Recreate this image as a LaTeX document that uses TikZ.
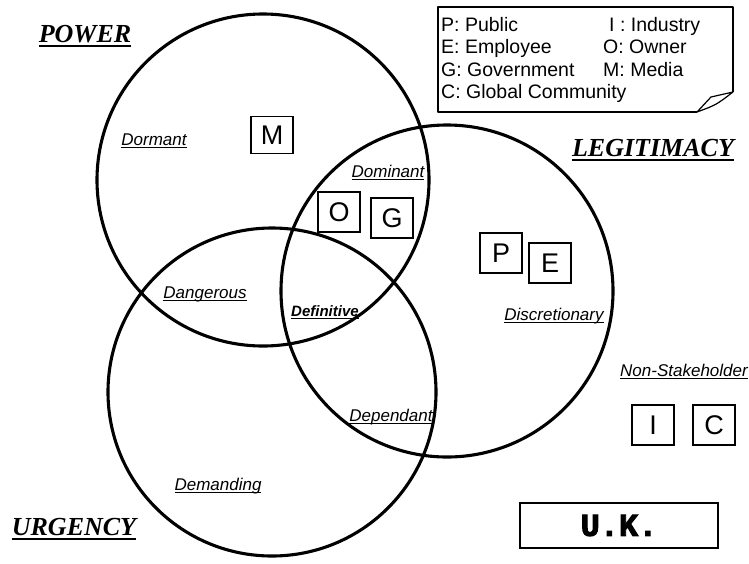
\documentclass[tikz,border=0pt]{standalone}
\usepackage{fontspec}
\setmainfont{Liberation Sans}
\newfontfamily\headfont{Liberation Serif}
\newfontfamily\ukfont[BoldFeatures={FakeBold=3}]{Liberation Mono}

% underline drawn as a rule of given depth range below the baseline
\newcommand\ulrule[3]{\setbox0\hbox{#3}\rlap{\vrule width\wd0 height -#1 depth #2}\box0}

\begin{document}
\begin{tikzpicture}[x=1pt,y=-1pt,
  ring/.style={line width=3.1pt},
  region/.style={anchor=base,inner sep=0pt,font=\fontsize{17}{20}\selectfont\itshape},
  attr/.style={anchor=base,inner sep=0pt,font=\fontsize{26}{30}\selectfont\headfont\bfseries\itshape},
  actor/.style={draw,line width=1.2pt,minimum width=42pt,minimum height=40pt,inner sep=0pt,font=\fontsize{27}{30}\selectfont},
  legend/.style={anchor=base west,inner sep=0pt,font=\fontsize{19.5}{22}\selectfont}
]
\useasboundingbox (0,0) rectangle (749,563);

% the three attribute circles
\draw[ring] (263,180) circle[radius=166pt];
\draw[ring] (447,291) circle[radius=166pt];
\draw[ring] (272,392) circle[radius=164pt];

% attribute headings
\node[attr] (power) at (85,42) {\ulrule{3pt}{5pt}{POWER}};
\node[attr] (legit) at (653,156) {\ulrule{3pt}{5pt}{LEGITIMACY}};
\node[attr] (urgency) at (74,535) {\ulrule{3pt}{5pt}{URGENCY}};

% stakeholder classes
\node[region] (dormant) at (154,145) {\ulrule{2pt}{3.3pt}{Dormant}};
\node[region] (dominant) at (388,177) {\ulrule{2pt}{3.3pt}{Dominant}};
\node[region] (dangerous) at (205,298) {\ulrule{2pt}{3.3pt}{Dangerous}};
\node[region,font=\fontsize{15}{18}\selectfont\bfseries\itshape] (definitive) at (325,316) {\ulrule{2pt}{3.3pt}{Definitive}};
\node[region] (discretionary) at (554,320) {\ulrule{2pt}{3.3pt}{Discretionary}};
\node[region] (dependant) at (391,421) {\ulrule{2pt}{3.3pt}{Dependant}};
\node[region] (demanding) at (218,490) {\ulrule{2pt}{3.3pt}{Demanding}};
\node[region] (nonstake) at (684,376) {\ulrule{2pt}{3.3pt}{Non-Stakeholder}};

% stakeholders
\node[actor,minimum height=37pt] (m) at (272,135) {M};
\node[actor] (o) at (339,212) {O};
\node[actor] (g) at (392,218) {G};
\node[actor] (p) at (501,253) {P};
\node[actor] (e) at (550,263) {E};
\node[actor] (i) at (653,425) {I};
\node[actor] (c) at (714,425) {C};

% country tag
\node[draw,line width=2.8pt,minimum width=198pt,minimum height=45pt,inner sep=0pt,
      font=\fontsize{32}{34}\selectfont\ukfont\bfseries] (uk) at (619,525.5) {U.K.};

% legend with folded corner
\draw[line width=1.4pt,line join=round] (697,112) -- (438,112) -- (438,7) -- (733,7) -- (733,92);
\draw[line width=1.2pt,line join=round] (697,112) -- (711,97) -- (733,92)
  (697,112) .. controls (716,105) .. (733,92);
\node[legend] (lp) at (441,31) {P: Public};
\node[legend] (le) at (441,53) {E: Employee};
\node[legend] (lg) at (441,76) {G: Government};
\node[legend] (lc) at (441,98) {C: Global Community};
\node[legend] (li) at (609,31) {I : Industry};
\node[legend] (lo) at (603,53) {O: Owner};
\node[legend] (lm) at (603,76) {M: Media};
\end{tikzpicture}
\end{document}
